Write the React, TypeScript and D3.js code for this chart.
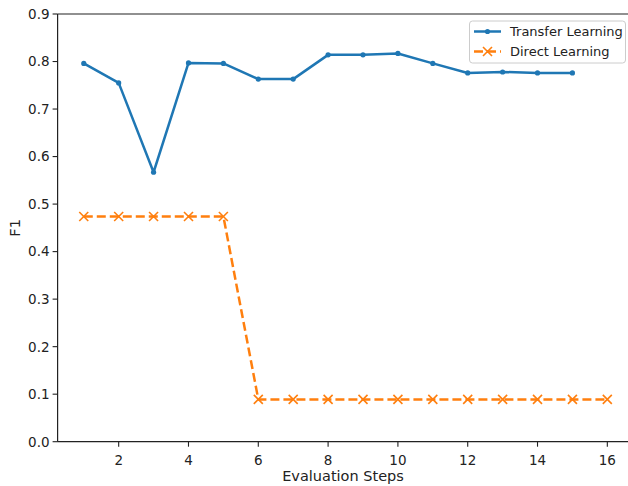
import React from "react";
import * as d3 from "d3";

const steps = [1, 2, 3, 4, 5, 6, 7, 8, 9, 10, 11, 12, 13, 14, 15, 16];
const transferSteps = [1, 2, 3, 4, 5, 6, 7, 8, 9, 10, 11, 12, 13, 14, 15];
const transferF1 = [0.796, 0.755, 0.567, 0.797, 0.796, 0.763, 0.763, 0.814, 0.814, 0.817, 0.796, 0.776, 0.778, 0.776, 0.776];
const directF1 = [0.474, 0.474, 0.474, 0.474, 0.474, 0.089, 0.089, 0.089, 0.089, 0.089, 0.089, 0.089, 0.089, 0.089, 0.089, 0.089];
const xTicks = [2, 4, 6, 8, 10, 12, 14, 16];
const yTicks = [0, 0.1, 0.2, 0.3, 0.4, 0.5, 0.6, 0.7, 0.8, 0.9];
const seriesNames = ["Transfer Learning", "Direct Learning"];

const W = 628;
const H = 486;
const left = 57.6;
const right = 633.5;
const top = 14;
const bottom = 441.7;
const BLUE = "#1f77b4";
const ORANGE = "#ff7f0e";
const FONT = "DejaVu Sans, sans-serif";

export default function App() {
  const x = d3.scaleLinear().domain([0.25, 16.75]).range([left, right]);
  const y = d3.scaleLinear().domain([0, 0.9]).range([bottom, top]);

  const tData = transferSteps.map((s, i) => [s, transferF1[i]] as [number, number]);
  const dData = steps.map((s, i) => [s, directF1[i]] as [number, number]);
  const line = d3
    .line<[number, number]>()
    .x((d) => x(d[0]))
    .y((d) => y(d[1]));

  const xMark = (cx: number, cy: number, r: number, color: string, key: string) => (
    <g key={key} stroke={color} strokeWidth={1.6}>
      <line x1={cx - r} y1={cy - r} x2={cx + r} y2={cy + r} />
      <line x1={cx - r} y1={cy + r} x2={cx + r} y2={cy - r} />
    </g>
  );

  return (
    <svg
      width={W}
      height={H}
      style={{ position: "absolute", left: 0, top: 0, background: "#fff" }}
      fontFamily={FONT}
    >
      {/* series */}
      <path d={line(dData) || ""} fill="none" stroke={ORANGE} strokeWidth={2.5} strokeDasharray="9,4" />
      {dData.map((d, i) => xMark(x(d[0]), y(d[1]), 4.5, ORANGE, "dx" + i))}
      <path d={line(tData) || ""} fill="none" stroke={BLUE} strokeWidth={2.5} strokeLinejoin="round" />
      {tData.map((d, i) => (
        <circle key={"tc" + i} cx={x(d[0])} cy={y(d[1])} r={2.6} fill={BLUE} />
      ))}

      {/* spines */}
      <line x1={left} y1={top} x2={left} y2={bottom} stroke="#222" strokeWidth={1.2} />
      <line x1={left} y1={bottom} x2={W} y2={bottom} stroke="#222" strokeWidth={1.2} />
      <line x1={left} y1={top} x2={W} y2={top} stroke="#222" strokeWidth={1.2} />

      {/* y ticks */}
      {yTicks.map((t) => (
        <g key={"y" + t}>
          <line x1={left - 5} x2={left} y1={y(t)} y2={y(t)} stroke="#222" strokeWidth={1.1} />
          <text
            x={left - 8}
            y={y(t)}
            dy="0.36em"
            textAnchor="end"
            fontSize={13.5}
            fill="#222"
          >
            {t.toFixed(1)}
          </text>
        </g>
      ))}
      {/* x ticks */}
      {xTicks.map((t) => (
        <g key={"x" + t}>
          <line x1={x(t)} x2={x(t)} y1={bottom} y2={bottom + 5} stroke="#222" strokeWidth={1.1} />
          <text x={x(t)} y={465} textAnchor="middle" fontSize={13.5} fill="#222">
            {t}
          </text>
        </g>
      ))}

      {/* axis labels */}
      <text x={343} y={481} textAnchor="middle" fontSize={14.5} fill="#222">
        Evaluation Steps
      </text>
      <text
        transform={`translate(20,${(top + bottom) / 2}) rotate(-90)`}
        textAnchor="middle"
        fontSize={14.5}
        fill="#222"
      >
        F1
      </text>

      {/* legend */}
      <g>
        <rect x={469.5} y={21} width={156} height={42} rx={3} fill="#fff" fillOpacity={0.8} stroke="#ccc" strokeWidth={1} />
        <line x1={474} x2={501} y1={31.5} y2={31.5} stroke={BLUE} strokeWidth={2.5} />
        <circle cx={487.5} cy={31.5} r={2.6} fill={BLUE} />
        <text x={510} y={31.5} dy="0.36em" fontSize={13} fill="#222">
          {seriesNames[0]}
        </text>
        <line x1={474} x2={501} y1={51.5} y2={51.5} stroke={ORANGE} strokeWidth={2.5} strokeDasharray="9,4" />
        {xMark(487.5, 51.5, 4.5, ORANGE, "lgx")}
        <text x={510} y={51.5} dy="0.36em" fontSize={13} fill="#222">
          {seriesNames[1]}
        </text>
      </g>
    </svg>
  );
}
